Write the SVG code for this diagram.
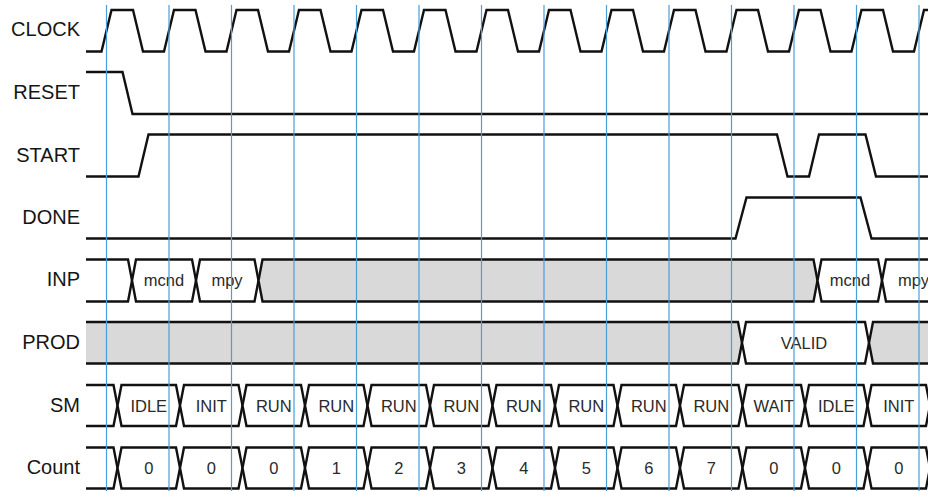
<svg xmlns="http://www.w3.org/2000/svg" width="928" height="491" viewBox="0 0 928 491">
<style>
.lbl{font-family:"Liberation Sans",Arial,sans-serif;font-size:20px;fill:#151515;text-anchor:end}
.val{font-family:"Liberation Sans",Arial,sans-serif;font-size:16.5px;fill:#2a2a2a;text-anchor:middle}
.sig{fill:none;stroke:#111;stroke-width:2.4;stroke-linejoin:miter}
.bw{fill:#fff;stroke:#111;stroke-width:2.4}
.bg{fill:#d9d9d9;stroke:#111;stroke-width:2.4}
.grid{stroke:#4a9fd8;stroke-width:1.2}
</style>
<rect width="928" height="491" fill="#fff"/>

<g id="labels">
<text class="lbl" x="80" y="36">CLOCK</text>
<text class="lbl" x="80" y="99">RESET</text>
<text class="lbl" x="80" y="161.5">START</text>
<text class="lbl" x="80" y="224">DONE</text>
<text class="lbl" x="80" y="286">INP</text>
<text class="lbl" x="80" y="348.5">PROD</text>
<text class="lbl" x="80" y="411.5">SM</text>
<text class="lbl" x="80" y="473.5">Count</text>
</g>

<g id="clock">
<path class="sig" d="M86 51.5 H101.5 L111.5 10 H133 L143 51.5 H164 L174 10 H195.5 L205.5 51.5 H226.5 L236.5 10 H258 L268 51.5 H289 L299 10 H320.5 L330.5 51.5 H351.5 L361.5 10 H383 L393 51.5 H414 L424 10 H445.5 L455.5 51.5 H476.5 L486.5 10 H508 L518 51.5 H539 L549 10 H570.5 L580.5 51.5 H601.5 L611.5 10 H633 L643 51.5 H664 L674 10 H695.5 L705.5 51.5 H726.5 L736.5 10 H758 L768 51.5 H789 L799 10 H820.5 L830.5 51.5 H851.5 L861.5 10 H883 L893 51.5 H914 L924 10 H930"/>
</g>

<g id="reset">
<path class="sig" d="M86 72 H122.5 L132.5 114 H930"/>
</g>

<g id="start">
<path class="sig" d="M86 176.5 H138.5 L148.5 134.5 H777 L787.5 176.5 H809 L819 134.5 H865.5 L876 176.5 H930"/>
</g>

<g id="done">
<path class="sig" d="M86 238.5 H735.5 L746.5 197.5 H860.5 L871.5 238.5 H930"/>
</g>

<g id="inp">
<path class="bw" d="M86 259.5 H128 L132 280.5 L128 301.5 H86"/>
<polygon class="bw" points="132,280.5 136,259.5 192,259.5 196,280.5 192,301.5 136,301.5"/>
<polygon class="bw" points="196,280.5 200,259.5 254.5,259.5 258.5,280.5 254.5,301.5 200,301.5"/>
<polygon class="bg" points="258.5,280.5 262.5,259.5 813.5,259.5 817.5,280.5 813.5,301.5 262.5,301.5"/>
<polygon class="bw" points="817.5,280.5 821.5,259.5 878,259.5 882,280.5 878,301.5 821.5,301.5"/>
<polygon class="bw" points="882,280.5 886,259.5 945,259.5 945,301.5 886,301.5"/>
<text class="val" x="164" y="286">mcnd</text>
<text class="val" x="227" y="286">mpy</text>
<text class="val" x="850" y="286">mcnd</text>
<text class="val" x="913.5" y="286">mpy</text>
</g>

<g id="prod">
<path class="bg" d="M86 322 H738 L742 342.75 L738 363.5 H86"/>
<polygon class="bw" points="742,342.75 746,322 865,322 869,342.75 865,363.5 746,363.5"/>
<path class="bg" d="M945 322 H873 L869 342.75 L873 363.5 H945"/>
<text class="val" x="804" y="348.5">VALID</text>
</g>

<g id="sm">
<path class="bw" d="M86 385 H113.5 L117.5 405.5 L113.5 426 H86"/>
<polygon class="bw" points="117.5,405.5 121.5,385 176,385 180,405.5 176,426 121.5,426"/>
<polygon class="bw" points="180,405.5 184,385 238.5,385 242.5,405.5 238.5,426 184,426"/>
<polygon class="bw" points="242.5,405.5 246.5,385 301,385 305,405.5 301,426 246.5,426"/>
<polygon class="bw" points="305,405.5 309,385 363.5,385 367.5,405.5 363.5,426 309,426"/>
<polygon class="bw" points="367.5,405.5 371.5,385 426,385 430,405.5 426,426 371.5,426"/>
<polygon class="bw" points="430,405.5 434,385 488.5,385 492.5,405.5 488.5,426 434,426"/>
<polygon class="bw" points="492.5,405.5 496.5,385 551,385 555,405.5 551,426 496.5,426"/>
<polygon class="bw" points="555,405.5 559,385 613.5,385 617.5,405.5 613.5,426 559,426"/>
<polygon class="bw" points="617.5,405.5 621.5,385 676,385 680,405.5 676,426 621.5,426"/>
<polygon class="bw" points="680,405.5 684,385 738.5,385 742.5,405.5 738.5,426 684,426"/>
<polygon class="bw" points="742.5,405.5 746.5,385 801,385 805,405.5 801,426 746.5,426"/>
<polygon class="bw" points="805,405.5 809,385 863.5,385 867.5,405.5 863.5,426 809,426"/>
<polygon class="bw" points="867.5,405.5 871.5,385 926,385 930,405.5 926,426 871.5,426"/>
<text class="val" x="148.75" y="411.5">IDLE</text>
<text class="val" x="211.25" y="411.5">INIT</text>
<text class="val" x="273.75" y="411.5">RUN</text>
<text class="val" x="336.25" y="411.5">RUN</text>
<text class="val" x="398.75" y="411.5">RUN</text>
<text class="val" x="461.25" y="411.5">RUN</text>
<text class="val" x="523.75" y="411.5">RUN</text>
<text class="val" x="586.25" y="411.5">RUN</text>
<text class="val" x="648.75" y="411.5">RUN</text>
<text class="val" x="711.25" y="411.5">RUN</text>
<text class="val" x="773.75" y="411.5">WAIT</text>
<text class="val" x="836.25" y="411.5">IDLE</text>
<text class="val" x="898.75" y="411.5">INIT</text>
</g>

<g id="count">
<path class="bw" d="M86 447.5 H113.5 L117.5 468 L113.5 488.5 H86"/>
<polygon class="bw" points="117.5,468 121.5,447.5 176,447.5 180,468 176,488.5 121.5,488.5"/>
<polygon class="bw" points="180,468 184,447.5 238.5,447.5 242.5,468 238.5,488.5 184,488.5"/>
<polygon class="bw" points="242.5,468 246.5,447.5 301,447.5 305,468 301,488.5 246.5,488.5"/>
<polygon class="bw" points="305,468 309,447.5 363.5,447.5 367.5,468 363.5,488.5 309,488.5"/>
<polygon class="bw" points="367.5,468 371.5,447.5 426,447.5 430,468 426,488.5 371.5,488.5"/>
<polygon class="bw" points="430,468 434,447.5 488.5,447.5 492.5,468 488.5,488.5 434,488.5"/>
<polygon class="bw" points="492.5,468 496.5,447.5 551,447.5 555,468 551,488.5 496.5,488.5"/>
<polygon class="bw" points="555,468 559,447.5 613.5,447.5 617.5,468 613.5,488.5 559,488.5"/>
<polygon class="bw" points="617.5,468 621.5,447.5 676,447.5 680,468 676,488.5 621.5,488.5"/>
<polygon class="bw" points="680,468 684,447.5 738.5,447.5 742.5,468 738.5,488.5 684,488.5"/>
<polygon class="bw" points="742.5,468 746.5,447.5 801,447.5 805,468 801,488.5 746.5,488.5"/>
<polygon class="bw" points="805,468 809,447.5 863.5,447.5 867.5,468 863.5,488.5 809,488.5"/>
<polygon class="bw" points="867.5,468 871.5,447.5 926,447.5 930,468 926,488.5 871.5,488.5"/>
<text class="val" x="148.75" y="473.5">0</text>
<text class="val" x="211.25" y="473.5">0</text>
<text class="val" x="273.75" y="473.5">0</text>
<text class="val" x="336.25" y="473.5">1</text>
<text class="val" x="398.75" y="473.5">2</text>
<text class="val" x="461.25" y="473.5">3</text>
<text class="val" x="523.75" y="473.5">4</text>
<text class="val" x="586.25" y="473.5">5</text>
<text class="val" x="648.75" y="473.5">6</text>
<text class="val" x="711.25" y="473.5">7</text>
<text class="val" x="773.75" y="473.5">0</text>
<text class="val" x="836.25" y="473.5">0</text>
<text class="val" x="898.75" y="473.5">0</text>
</g>

<g id="connectors">
<path class="grid" d="M106.5 5V491 M169 5V491 M231.5 5V491 M294 5V491 M356.5 5V491 M419 5V491 M481.5 5V491 M544 5V491 M606.5 5V491 M669 5V491 M731.5 5V491 M794 5V491 M856.5 5V491 M919 5V491"/>
</g>
</svg>
